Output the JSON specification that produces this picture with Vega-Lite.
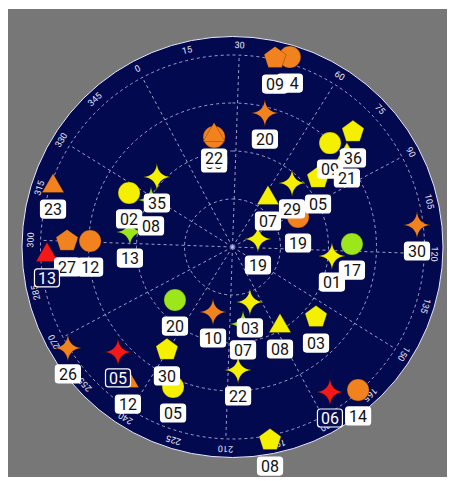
{
  "$schema": "https://vega.github.io/schema/vega-lite/v6.json",
  "width": 439,
  "height": 468,
  "autosize": {"type": "none"},
  "padding": {"left": 8, "top": 9, "right": 2, "bottom": 4},
  "background": "#ffffff",
  "config": {"view": {"fill": "#777777", "stroke": null}},
  "datasets": {
    "disc": [{"cx": 0, "cy": 0, "r": 1.0964}],
    "rings": [
      {"cx": 0, "cy": 0, "r": 0.25},
      {"cx": 0, "cy": 0, "r": 0.5},
      {"cx": 0, "cy": 0, "r": 0.75},
      {"cx": 0, "cy": 0, "r": 1.0}
    ],
    "spokes": [
      {"az": 0, "o": 0}, {"az": 30, "o": 0}, {"az": 60, "o": 0}, {"az": 90, "o": 0},
      {"az": 120, "o": 0}, {"az": 150, "o": 0}, {"az": 180, "o": 0}, {"az": 210, "o": 0},
      {"az": 240, "o": 0}, {"az": 270, "o": 0}, {"az": 300, "o": 0}, {"az": 330, "o": 0}
    ],
    "azlabels": [
      {"az": 0, "label": "0"}, {"az": 15, "label": "15"}, {"az": 30, "label": "30"},
      {"az": 45, "label": "45"}, {"az": 60, "label": "60"}, {"az": 75, "label": "75"},
      {"az": 90, "label": "90"}, {"az": 105, "label": "105"}, {"az": 120, "label": "120"},
      {"az": 135, "label": "135"}, {"az": 150, "label": "150"}, {"az": 165, "label": "165"},
      {"az": 180, "label": "180"}, {"az": 195, "label": "195"}, {"az": 210, "label": "210"},
      {"az": 225, "label": "225"}, {"az": 240, "label": "240"}, {"az": 255, "label": "255"},
      {"az": 270, "label": "270"}, {"az": 285, "label": "285"}, {"az": 300, "label": "300"},
      {"az": 315, "label": "315"}, {"az": 330, "label": "330"}, {"az": 345, "label": "345"}
    ],
    "sats": [
      {"prn": "14", "az": 44.8, "el": -3.0, "shape": "circle", "color": "orange", "tier": 0},
      {"prn": "09", "az": 40.7, "el": -0.8, "shape": "pentagon", "color": "orange", "tier": 1},
      {"prn": "20", "az": 41.6, "el": 25.4, "shape": "star", "color": "orange", "tier": 1},
      {"prn": "03", "az": 18.5, "el": 37.7, "shape": "circle", "color": "orange", "tier": 0},
      {"prn": "22", "az": 18.9, "el": 35.4, "shape": "triangle", "color": "orange", "tier": 1},
      {"prn": "09", "az": 71.2, "el": 23.2, "shape": "circle", "color": "yellow", "tier": 0},
      {"prn": "36", "az": 74.3, "el": 11.9, "shape": "pentagon", "color": "yellow", "tier": 1},
      {"prn": "21", "az": 78.3, "el": 20.3, "shape": "triangle", "color": "yellow", "tier": 1},
      {"prn": "05", "az": 79.1, "el": 38.5, "shape": "pentagon", "color": "yellow", "tier": 1},
      {"prn": "29", "az": 70.9, "el": 49.0, "shape": "star", "color": "yellow", "tier": 1},
      {"prn": "07", "az": 62.3, "el": 60.5, "shape": "triangle", "color": "yellow", "tier": 0},
      {"prn": "19", "az": 93.4, "el": 56.2, "shape": "circle", "color": "orange", "tier": 1},
      {"prn": "19", "az": 100.6, "el": 77.5, "shape": "star", "color": "yellow", "tier": 1},
      {"prn": "17", "az": 116.6, "el": 34.0, "shape": "circle", "color": "green", "tier": 0},
      {"prn": "01", "az": 123.2, "el": 43.2, "shape": "star", "color": "yellow", "tier": 1},
      {"prn": "30", "az": 111.2, "el": 2.9, "shape": "star", "color": "orange", "tier": 1},
      {"prn": "23", "az": 317.6, "el": 0.7, "shape": "triangle", "color": "orange", "tier": 1},
      {"prn": "35", "az": 340.8, "el": 41.7, "shape": "star", "color": "yellow", "tier": 1},
      {"prn": "02", "az": 325.6, "el": 35.3, "shape": "circle", "color": "yellow", "tier": 0},
      {"prn": "08", "az": 328.0, "el": 45.9, "shape": "star", "color": "green", "tier": 1},
      {"prn": "13", "az": 306.3, "el": 41.4, "shape": "star", "color": "green", "tier": 1},
      {"prn": "27", "az": 300.1, "el": 12.4, "shape": "pentagon", "color": "orange", "tier": 0},
      {"prn": "12", "az": 300.4, "el": 23.2, "shape": "circle", "color": "orange", "tier": 1},
      {"prn": "13", "az": 296.5, "el": 3.0, "shape": "triangle", "color": "red", "tier": 1},
      {"prn": "20", "az": 255.3, "el": 53.3, "shape": "circle", "color": "green", "tier": 1},
      {"prn": "10", "az": 224.7, "el": 58.2, "shape": "star", "color": "orange", "tier": 1},
      {"prn": "07", "az": 200.2, "el": 53.6, "shape": "star", "color": "green", "tier": 1},
      {"prn": "03", "az": 190.4, "el": 63.0, "shape": "star", "color": "yellow", "tier": 1},
      {"prn": "08", "az": 176.0, "el": 48.0, "shape": "triangle", "color": "yellow", "tier": 1},
      {"prn": "03", "az": 158.0, "el": 38.9, "shape": "pentagon", "color": "yellow", "tier": 1},
      {"prn": "05", "az": 231.0, "el": 18.7, "shape": "circle", "color": "yellow", "tier": 1},
      {"prn": "30", "az": 240.5, "el": 32.8, "shape": "pentagon", "color": "yellow", "tier": 1},
      {"prn": "22", "az": 205.4, "el": 32.3, "shape": "star", "color": "yellow", "tier": 1},
      {"prn": "12", "az": 246.6, "el": 11.4, "shape": "triangle", "color": "orange", "tier": 1},
      {"prn": "05", "az": 255.5, "el": 17.2, "shape": "star", "color": "red", "tier": 1},
      {"prn": "26", "az": 266.5, "el": -0.5, "shape": "star", "color": "orange", "tier": 1},
      {"prn": "06", "az": 174.1, "el": 8.1, "shape": "star", "color": "red", "tier": 1},
      {"prn": "14", "az": 166.7, "el": 0.8, "shape": "circle", "color": "orange", "tier": 1},
      {"prn": "08", "az": 197.0, "el": -2.2, "shape": "pentagon", "color": "yellow", "tier": 1}
    ]
  },
  "layer": [
    {
      "data": {"name": "disc"},
      "mark": {"type": "arc", "theta": 0, "theta2": 6.2832, "fill": "#03094f", "stroke": "#e8e8ff", "strokeWidth": 1},
      "encoding": {
        "x": {"field": "cx", "type": "quantitative", "scale": {"domain": [-1.16927, 1.11719], "nice": false, "zero": false}, "axis": null},
        "y": {"field": "cy", "type": "quantitative", "scale": {"domain": [-1.19792, 1.23958], "nice": false, "zero": false}, "axis": null},
        "radius": {"field": "r", "type": "quantitative", "stack": null, "scale": {"type": "linear", "domain": [0, 1], "range": [0, 192], "nice": false, "zero": true}, "legend": null}
      }
    },
    {
      "data": {"name": "rings"},
      "mark": {"type": "arc", "theta": 0, "theta2": 6.2832, "fill": null, "fillOpacity": 0, "stroke": "#c0c4e8", "strokeOpacity": 0.8, "strokeWidth": 1, "strokeDash": [3, 3]},
      "encoding": {
        "x": {"field": "cx", "type": "quantitative", "axis": null},
        "y": {"field": "cy", "type": "quantitative", "axis": null},
        "radius": {"field": "r", "type": "quantitative", "stack": null, "legend": null}
      }
    },
    {
      "data": {"name": "spokes"},
      "transform": [
        {"calculate": "sin((datum.az - 28) * PI / 180)", "as": "ex"},
        {"calculate": "cos((datum.az - 28) * PI / 180)", "as": "ey"}
      ],
      "mark": {"type": "rule", "stroke": "#c0c4e8", "strokeOpacity": 0.8, "strokeWidth": 1, "strokeDash": [3, 3]},
      "encoding": {
        "x": {"field": "o", "type": "quantitative", "axis": null},
        "y": {"field": "o", "type": "quantitative", "axis": null},
        "x2": {"field": "ex"},
        "y2": {"field": "ey"}
      }
    },
    {
      "data": {"name": "azlabels"},
      "transform": [
        {"calculate": "1.052 * sin((datum.az - 28) * PI / 180)", "as": "lx"},
        {"calculate": "1.052 * cos((datum.az - 28) * PI / 180)", "as": "ly"},
        {"calculate": "(datum.az - 28 + 360) % 360", "as": "rot"}
      ],
      "mark": {"type": "text", "font": "Roboto", "fontSize": 9, "fill": "#e6e6f2", "align": "center", "baseline": "middle"},
      "encoding": {
        "x": {"field": "lx", "type": "quantitative", "axis": null},
        "y": {"field": "ly", "type": "quantitative", "axis": null},
        "text": {"field": "label"},
        "angle": {"field": "rot", "type": "quantitative", "scale": {"domain": [0, 360], "range": [0, 360]}, "legend": null}
      }
    },
    {
      "data": {"name": "sats"},
      "transform": [
        {"calculate": "(90 - datum.el) / 90", "as": "rr"},
        {"calculate": "datum.rr * sin((datum.az - 28) * PI / 180)", "as": "px"},
        {"calculate": "datum.rr * cos((datum.az - 28) * PI / 180)", "as": "py"}
      ],
      "mark": {"type": "point", "filled": true, "opacity": 1, "size": 484, "stroke": "#000000", "strokeWidth": 0.8, "strokeOpacity": 0.3},
      "encoding": {
        "x": {"field": "px", "type": "quantitative", "axis": null},
        "y": {"field": "py", "type": "quantitative", "axis": null},
        "shape": {
          "field": "shape", "type": "nominal", "legend": null,
          "scale": {
            "domain": ["circle", "pentagon", "triangle", "star"],
            "range": ["circle", "M0,-1.05L1,-0.324L0.618,0.85L-0.618,0.85L-1,-0.324Z", "triangle-up", "M0,-1.25Q0.1,-0.1 1.25,0Q0.1,0.1 0,1.25Q-0.1,0.1 -1.25,0Q-0.1,-0.1 0,-1.25Z"]
          }
        },
        "fill": {
          "field": "color", "type": "nominal", "legend": null,
          "scale": {"domain": ["orange", "yellow", "green", "red"], "range": ["#f2821e", "#f5f000", "#9ce61c", "#f51818"]}
        }
      }
    },
    {
      "data": {"name": "sats"},
      "transform": [
        {"filter": "datum.tier === 0"},
        {"calculate": "(90 - datum.el) / 90", "as": "rr"},
        {"calculate": "datum.rr * sin((datum.az - 28) * PI / 180)", "as": "px"},
        {"calculate": "datum.rr * cos((datum.az - 28) * PI / 180)", "as": "py"}
      ],
      "mark": {"type": "point", "filled": true, "opacity": 1, "size": 400, "yOffset": 26, "stroke": "#ffffff", "strokeWidth": 1.2,
        "shape": "M-0.95,-0.9L0.95,-0.9Q1.25,-0.9 1.25,-0.6L1.25,0.6Q1.25,0.9 0.95,0.9L-0.95,0.9Q-1.25,0.9 -1.25,0.6L-1.25,-0.6Q-1.25,-0.9 -0.95,-0.9Z"},
      "encoding": {
        "x": {"field": "px", "type": "quantitative", "axis": null},
        "y": {"field": "py", "type": "quantitative", "axis": null},
        "fill": {"condition": {"test": "datum.color === 'red'", "value": "#060c52"}, "value": "#ffffff"}
      }
    },
    {
      "data": {"name": "sats"},
      "transform": [
        {"filter": "datum.tier === 0"},
        {"calculate": "(90 - datum.el) / 90", "as": "rr"},
        {"calculate": "datum.rr * sin((datum.az - 28) * PI / 180)", "as": "px"},
        {"calculate": "datum.rr * cos((datum.az - 28) * PI / 180)", "as": "py"}
      ],
      "mark": {"type": "text", "font": "Roboto", "fontSize": 16, "yOffset": 27, "align": "center", "baseline": "middle"},
      "encoding": {
        "x": {"field": "px", "type": "quantitative", "axis": null},
        "y": {"field": "py", "type": "quantitative", "axis": null},
        "text": {"field": "prn"},
        "fill": {"condition": {"test": "datum.color === 'red'", "value": "#ffffff"}, "value": "#111111"}
      }
    },
    {
      "data": {"name": "sats"},
      "transform": [
        {"filter": "datum.tier === 1"},
        {"calculate": "(90 - datum.el) / 90", "as": "rr"},
        {"calculate": "datum.rr * sin((datum.az - 28) * PI / 180)", "as": "px"},
        {"calculate": "datum.rr * cos((datum.az - 28) * PI / 180)", "as": "py"}
      ],
      "mark": {"type": "point", "filled": true, "opacity": 1, "size": 400, "yOffset": 26, "stroke": "#ffffff", "strokeWidth": 1.2,
        "shape": "M-0.95,-0.9L0.95,-0.9Q1.25,-0.9 1.25,-0.6L1.25,0.6Q1.25,0.9 0.95,0.9L-0.95,0.9Q-1.25,0.9 -1.25,0.6L-1.25,-0.6Q-1.25,-0.9 -0.95,-0.9Z"},
      "encoding": {
        "x": {"field": "px", "type": "quantitative", "axis": null},
        "y": {"field": "py", "type": "quantitative", "axis": null},
        "fill": {"condition": {"test": "datum.color === 'red'", "value": "#060c52"}, "value": "#ffffff"}
      }
    },
    {
      "data": {"name": "sats"},
      "transform": [
        {"filter": "datum.tier === 1"},
        {"calculate": "(90 - datum.el) / 90", "as": "rr"},
        {"calculate": "datum.rr * sin((datum.az - 28) * PI / 180)", "as": "px"},
        {"calculate": "datum.rr * cos((datum.az - 28) * PI / 180)", "as": "py"}
      ],
      "mark": {"type": "text", "font": "Roboto", "fontSize": 16, "yOffset": 27, "align": "center", "baseline": "middle"},
      "encoding": {
        "x": {"field": "px", "type": "quantitative", "axis": null},
        "y": {"field": "py", "type": "quantitative", "axis": null},
        "text": {"field": "prn"},
        "fill": {"condition": {"test": "datum.color === 'red'", "value": "#ffffff"}, "value": "#111111"}
      }
    }
  ]
}
